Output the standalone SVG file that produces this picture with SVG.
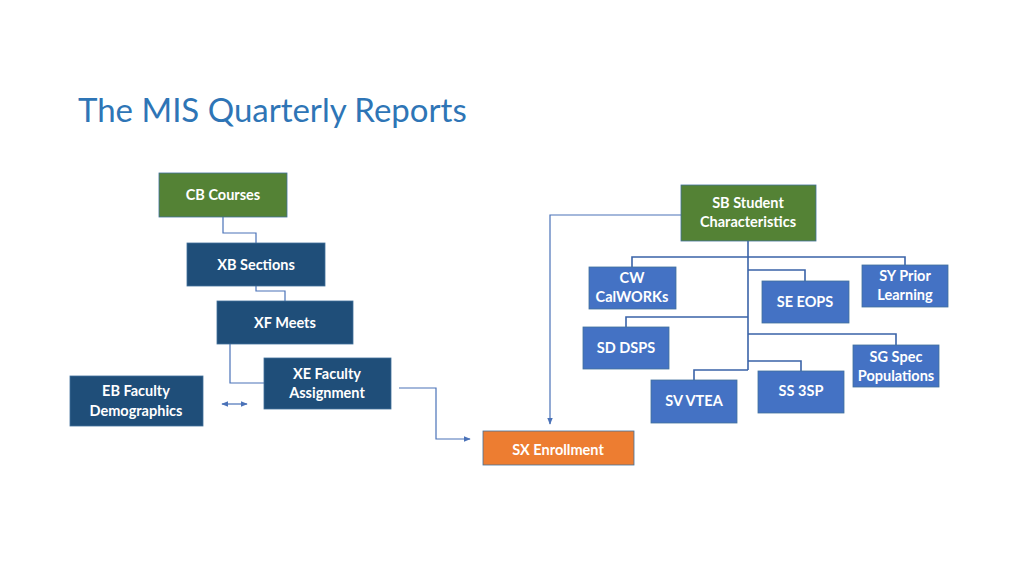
<svg xmlns="http://www.w3.org/2000/svg" width="1024" height="576" viewBox="0 0 1024 576">
<defs>
<style>
.g{fill:#548235}.d{fill:#1f4e79}.m{fill:#4472c4}.o{fill:#ed7d31}
.n rect{stroke:#41719c;stroke-width:0.8}
.n text{font-family:Lato,"Liberation Sans",sans-serif;font-weight:bold;font-size:14.5px;fill:#fff;text-anchor:middle}
.c{fill:none;stroke:#4a72b8;stroke-width:1.2}
.t{stroke:#3a63a8;stroke-width:1.6}
</style>
<marker id="a" viewBox="0 0 10 10" refX="9" refY="5" markerWidth="6" markerHeight="6" orient="auto-start-reverse"><path d="M0,1L10,5L0,9z" fill="#4a72b8"/></marker>
</defs>
<rect width="1024" height="576" fill="#fff"/>
<text x="78" y="122" font-family="Lato,'Liberation Sans',sans-serif" font-size="33" fill="#2e75b6">The MIS Quarterly Reports</text>
<g id="connectors">
<path class="c" d="M223,217V233H256V243"/>
<path class="c" d="M256,286V291H285V301"/>
<path class="c" d="M230,344V383H264"/>
<path class="c" d="M222,404H247" marker-start="url(#a)" marker-end="url(#a)"/>
<path class="c" d="M399,388H436V439H470" marker-end="url(#a)"/>
<path class="c" d="M681,215H550V424" marker-end="url(#a)"/>
<g class="c t">
<path d="M748,241V370"/>
<path d="M632,267V257H905V265"/>
<path d="M748,270H805V281"/>
<path d="M748,317H626V327"/>
<path d="M748,334H896V345"/>
<path d="M748,361H801V371"/>
<path d="M748,370H694V380"/>
</g>
</g>
<g id="cb" class="n"><rect class="g" x="159" y="173" width="128" height="44"/><text x="223" y="200">CB Courses</text></g>
<g id="xb" class="n"><rect class="d" x="187" y="243" width="138" height="43"/><text x="256" y="270">XB Sections</text></g>
<g id="xf" class="n"><rect class="d" x="217" y="301" width="136" height="43"/><text x="285" y="328">XF Meets</text></g>
<g id="xe" class="n"><rect class="d" x="264" y="358" width="127" height="51"/><text x="327" y="379">XE Faculty</text><text x="327" y="398">Assignment</text></g>
<g id="eb" class="n"><rect class="d" x="70" y="376" width="133" height="50"/><text x="136" y="396">EB Faculty</text><text x="136" y="416">Demographics</text></g>
<g id="sx" class="n"><rect class="o" x="483" y="431" width="151" height="34"/><text x="558" y="455">SX Enrollment</text></g>
<g id="sb" class="n"><rect class="g" x="681" y="185" width="135" height="56"/><text x="748" y="208">SB Student</text><text x="748" y="227">Characteristics</text></g>
<g id="cw" class="n"><rect class="m" x="589" y="267" width="87" height="42"/><text x="632" y="283">CW</text><text x="632" y="302">CalWORKs</text></g>
<g id="se" class="n"><rect class="m" x="762" y="281" width="87" height="42"/><text x="805" y="307">SE EOPS</text></g>
<g id="sy" class="n"><rect class="m" x="862" y="265" width="86" height="42"/><text x="905" y="281">SY Prior</text><text x="905" y="300">Learning</text></g>
<g id="sd" class="n"><rect class="m" x="583" y="327" width="86" height="42"/><text x="626" y="353">SD DSPS</text></g>
<g id="sg" class="n"><rect class="m" x="853" y="345" width="86" height="42"/><text x="896" y="362">SG Spec</text><text x="896" y="381">Populations</text></g>
<g id="ss" class="n"><rect class="m" x="758" y="371" width="86" height="42"/><text x="801" y="396">SS 3SP</text></g>
<g id="sv" class="n"><rect class="m" x="651" y="380" width="86" height="43"/><text x="694" y="406">SV VTEA</text></g>
</svg>
